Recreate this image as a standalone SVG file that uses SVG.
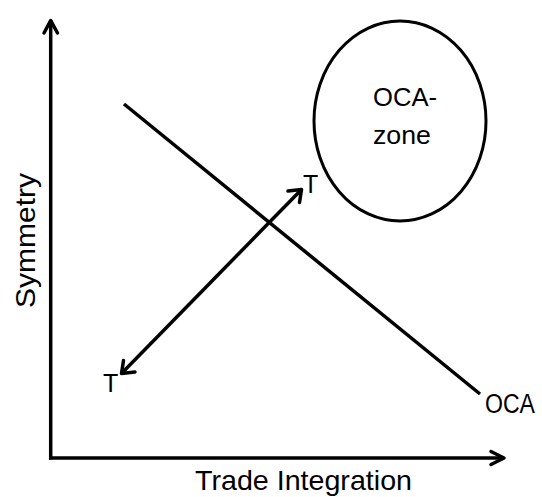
<svg xmlns="http://www.w3.org/2000/svg" width="542" height="497" viewBox="0 0 542 497">
<style>
.ln{stroke:#000;stroke-width:3.5;fill:none;stroke-linecap:butt}
.ah{stroke:#000;stroke-width:3.5;fill:none;stroke-linecap:round;stroke-linejoin:round}
.t{font-family:"Liberation Sans",Arial,sans-serif;fill:#000}
</style>
<rect width="542" height="497" fill="#fff"/>
<g id="axes">
<line class="ln" x1="50.7" y1="20" x2="50.7" y2="459.5"/>
<path class="ah" d="M44,33 L50.7,20.5 L57.5,33"/>
<line class="ln" x1="49" y1="458" x2="504" y2="458"/>
<path class="ah" d="M491,451.5 L504,458 L491,464.5"/>
</g>
<g id="oca-line">
<line class="ln" x1="124" y1="104" x2="480" y2="394"/>
<text class="t" x="485" y="413" font-size="27" textLength="50" lengthAdjust="spacingAndGlyphs">OCA</text>
</g>
<g id="oca-zone">
<ellipse cx="400" cy="121" rx="86" ry="100" fill="none" stroke="#000" stroke-width="3"/>
<text class="t" x="373" y="106" font-size="26" textLength="64" lengthAdjust="spacingAndGlyphs">OCA-</text>
<text class="t" x="373" y="144" font-size="26" textLength="58" lengthAdjust="spacingAndGlyphs">zone</text>
</g>
<g id="connectors">
<line class="ln" x1="121.5" y1="373.5" x2="301.5" y2="189.5"/>
<path class="ah" d="M288,191 L301.5,189.5 L299.5,202.5"/>
<path class="ah" d="M123.5,360.5 L121.5,373.5 L135,372"/>
</g>
<g id="labels">
<text class="t" x="303" y="193" font-size="25">T</text>
<text class="t" x="103" y="392" font-size="25">T</text>
<text class="t" x="195" y="490" font-size="28" textLength="217" lengthAdjust="spacingAndGlyphs">Trade Integration</text>
<text class="t" transform="translate(35,308) rotate(-90)" font-size="28" textLength="135" lengthAdjust="spacingAndGlyphs">Symmetry</text>
</g>
</svg>
